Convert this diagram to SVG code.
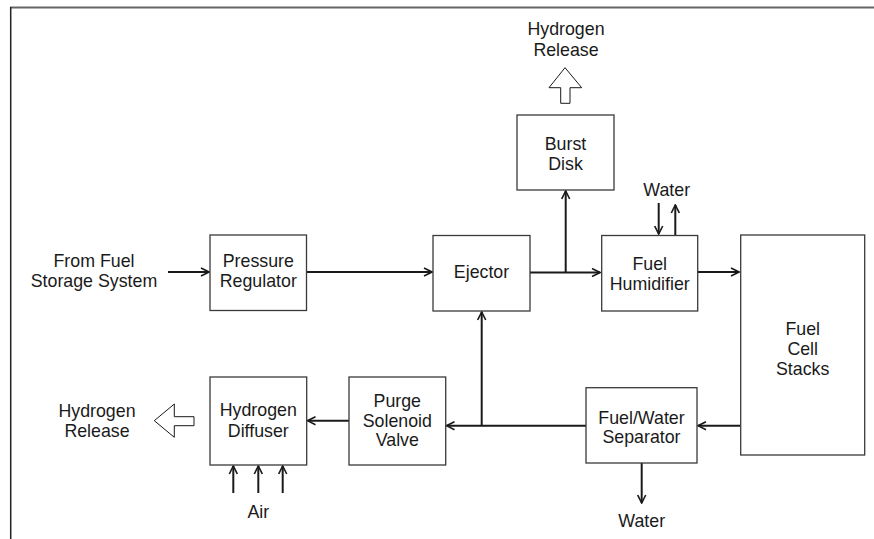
<svg xmlns="http://www.w3.org/2000/svg" width="874" height="539" viewBox="0 0 874 539">
<defs>
<style>
.box{fill:#fff;stroke:#3a3a3a;stroke-width:1.3}
.t{font-family:"Liberation Sans",Arial,sans-serif;font-size:17.8px;fill:#1a1a1a;text-anchor:middle}
.c{fill:none;stroke:#1a1a1a;stroke-width:2}
.blk{fill:#fff;stroke:#1a1a1a;stroke-width:1}
</style>
<marker id="ah" viewBox="0 0 10 10" refX="9" refY="5" markerWidth="10" markerHeight="10" markerUnits="userSpaceOnUse" orient="auto">
<path d="M1,1 L9,5 L1,9" fill="none" stroke="#1a1a1a" stroke-width="1.6"/>
</marker>
</defs>
<rect width="874" height="539" fill="#fff"/>
<g id="frame">
<line x1="10" y1="7.5" x2="874" y2="7.5" stroke="#666" stroke-width="2"/>
<line x1="10.7" y1="7" x2="10.7" y2="539" stroke="#222" stroke-width="1.5"/>
</g>
<g id="connectors">
<line class="c" x1="168" y1="272" x2="209" y2="272" marker-end="url(#ah)"/>
<line class="c" x1="307" y1="272" x2="432" y2="272" marker-end="url(#ah)"/>
<line class="c" x1="530" y1="272.5" x2="600" y2="272.5" marker-end="url(#ah)"/>
<line class="c" x1="565.7" y1="272.5" x2="565.7" y2="191" marker-end="url(#ah)"/>
<line class="c" x1="698" y1="272" x2="739" y2="272" marker-end="url(#ah)"/>
<line class="c" x1="658.7" y1="203" x2="658.7" y2="234" marker-end="url(#ah)"/>
<line class="c" x1="675.3" y1="235" x2="675.3" y2="205" marker-end="url(#ah)"/>
<line class="c" x1="740" y1="425.7" x2="698" y2="425.7" marker-end="url(#ah)"/>
<line class="c" x1="586" y1="425.7" x2="446.5" y2="425.7" marker-end="url(#ah)"/>
<line class="c" x1="481.7" y1="425.7" x2="481.7" y2="312" marker-end="url(#ah)"/>
<line class="c" x1="349" y1="420.7" x2="307.5" y2="420.7" marker-end="url(#ah)"/>
<line class="c" x1="233.3" y1="493" x2="233.3" y2="466" marker-end="url(#ah)"/>
<line class="c" x1="258.3" y1="493" x2="258.3" y2="466" marker-end="url(#ah)"/>
<line class="c" x1="282.7" y1="493" x2="282.7" y2="466" marker-end="url(#ah)"/>
<line class="c" x1="641.7" y1="463" x2="641.7" y2="503" marker-end="url(#ah)"/>
<polygon class="blk" points="565,67.7 581.7,87.7 570,87.7 570,103.3 560.7,103.3 560.7,87.7 549,87.7"/>
<polygon class="blk" points="154.3,420.7 174.3,404 174.3,416.7 194,416.7 194,425.7 174.3,425.7 174.3,437.3"/>
</g>
<g id="from-fuel">
<text class="t" x="94" y="266.7">From Fuel</text>
<text class="t" x="94" y="286.7">Storage System</text>
</g>
<g id="pressure-regulator">
<rect class="box" x="210" y="235" width="96.5" height="75.5"/>
<text class="t" x="258.3" y="266.7">Pressure</text>
<text class="t" x="258.3" y="286.7">Regulator</text>
</g>
<g id="ejector">
<rect class="box" x="433" y="235.5" width="97" height="75.5"/>
<text class="t" x="481.5" y="278">Ejector</text>
</g>
<g id="burst-disk">
<rect class="box" x="517" y="115" width="97" height="75"/>
<text class="t" x="565.5" y="149.5">Burst</text>
<text class="t" x="565.5" y="169.5">Disk</text>
</g>
<g id="hydrogen-release-top">
<text class="t" x="566" y="35">Hydrogen</text>
<text class="t" x="566" y="56">Release</text>
</g>
<g id="fuel-humidifier">
<rect class="box" x="601.7" y="235.5" width="96" height="75.5"/>
<text class="t" x="649.7" y="270">Fuel</text>
<text class="t" x="649.7" y="289.5">Humidifier</text>
</g>
<g id="water-top">
<text class="t" x="666.7" y="196">Water</text>
</g>
<g id="fuel-cell-stacks">
<rect class="box" x="740.7" y="235" width="124" height="220"/>
<text class="t" x="802.7" y="335">Fuel</text>
<text class="t" x="802.7" y="355">Cell</text>
<text class="t" x="802.7" y="375">Stacks</text>
</g>
<g id="fuel-water-separator">
<rect class="box" x="586" y="387.7" width="111" height="75.3"/>
<text class="t" x="641.5" y="423.5">Fuel/Water</text>
<text class="t" x="641.5" y="443">Separator</text>
</g>
<g id="water-bottom">
<text class="t" x="641.7" y="527">Water</text>
</g>
<g id="purge-solenoid-valve">
<rect class="box" x="349" y="377" width="96.7" height="88"/>
<text class="t" x="397.3" y="406.7">Purge</text>
<text class="t" x="397.3" y="426.5">Solenoid</text>
<text class="t" x="397.3" y="446">Valve</text>
</g>
<g id="hydrogen-diffuser">
<rect class="box" x="210" y="377" width="96.7" height="88"/>
<text class="t" x="258.3" y="416">Hydrogen</text>
<text class="t" x="258.3" y="436.5">Diffuser</text>
</g>
<g id="air">
<text class="t" x="258.3" y="518">Air</text>
</g>
<g id="hydrogen-release-left">
<text class="t" x="97" y="417">Hydrogen</text>
<text class="t" x="97" y="437">Release</text>
</g>
</svg>
